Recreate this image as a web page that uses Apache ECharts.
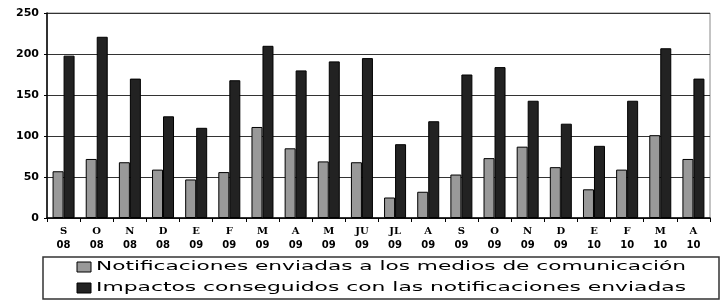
<!DOCTYPE html>
<html>
<head>
<meta charset="utf-8">
<script src="https://cdn.jsdelivr.net/npm/echarts@6/dist/echarts.min.js"></script>
<style>
html,body{margin:0;padding:0;background:#fff;}
#chart{width:721px;height:301px;}
</style>
</head>
<body>
<div id="chart"></div>
<script>
const months = ["S","O","N","D","E","F","M","A","M","JU","JL","A","S","O","N","D","E","F","M","A"];
const years  = ["08","08","08","08","09","09","09","09","09","09","09","09","09","09","09","09","10","10","10","10"];
const seriesNames = [
  "Notificaciones enviadas a los medios de comunicación",
  "Impactos conseguidos con las notificaciones enviadas"
];
const notificaciones = [57,72,68,59,47,56,111,85,69,68,25,32,53,73,87,62,35,59,101,72];
const impactos = [198,221,170,124,110,168,210,180,191,195,90,118,175,184,143,115,88,143,207,170];

const categories = months.map((m, i) => m + "\n" + years[i]);

const chart = echarts.init(document.getElementById('chart'), null, {renderer: 'canvas'});

function measure(text, font) {
  const c = document.createElement('canvas').getContext('2d');
  c.font = font;
  return c.measureText(text).width;
}
const legendFont = '12px "DejaVu Sans"';
const targetW = 590;
const s1 = targetW / measure(seriesNames[0], legendFont);
const s2 = targetW / measure(seriesNames[1], legendFont);

chart.setOption({
  animation: false,
  backgroundColor: '#ffffff',
  grid: {left: 47, right: 11, top: 13, bottom: 83, show: true, borderColor: '#888', borderWidth: 1},
  xAxis: {
    type: 'category',
    data: categories,
    axisLine: {lineStyle: {color: '#000', width: 1.5}},
    axisTick: {show: true, length: 4, lineStyle: {color: '#000'}},
    axisLabel: {
      margin: 6,
      interval: 0,
      formatter: function (v) {
        const p = v.split("\n");
        return '{m|' + p[0] + '}\n{y|' + p[1] + '}';
      },
      rich: {
        m: {fontFamily: '"DejaVu Serif"', fontWeight: 'bold', fontSize: 10, lineHeight: 14, color: '#000'},
        y: {fontFamily: '"DejaVu Sans"', fontWeight: 'bold', fontSize: 10, lineHeight: 14, color: '#000'}
      }
    }
  },
  yAxis: {
    type: 'value',
    min: 0, max: 250, interval: 50,
    axisLine: {show: true, lineStyle: {color: '#000', width: 1.5}},
    axisTick: {show: true, length: 3, lineStyle: {color: '#000'}},
    axisLabel: {margin: 8, fontFamily: '"DejaVu Sans"', fontWeight: 'bold', fontSize: 11, color: '#000'},
    splitLine: {show: true, lineStyle: {color: '#333', width: 1.2}}
  },
  series: [
    {
      name: seriesNames[0], type: 'bar', data: notificaciones,
      barWidth: 11, barGap: '0%',
      itemStyle: {color: '#999999', borderColor: '#000', borderWidth: 1}
    },
    {
      name: seriesNames[1], type: 'bar', data: impactos,
      barWidth: 11,
      itemStyle: {color: '#222222', borderColor: '#000', borderWidth: 1}
    }
  ],
  graphic: [
    {type: 'rect', shape: {x: 43, y: 257, width: 676, height: 42}, style: {fill: '#fff', stroke: '#333', lineWidth: 1.5}},
    {type: 'rect', shape: {x: 77, y: 262, width: 14, height: 10}, style: {fill: '#999999', stroke: '#000', lineWidth: 1}},
    {type: 'rect', shape: {x: 77, y: 283, width: 14, height: 10}, style: {fill: '#222222', stroke: '#000', lineWidth: 1}},
    {type: 'text', x: 96, y: 267, scaleX: s1, style: {text: seriesNames[0], font: legendFont, fill: '#000', verticalAlign: 'middle', align: 'left'}},
    {type: 'text', x: 96, y: 288, scaleX: s2, style: {text: seriesNames[1], font: legendFont, fill: '#000', verticalAlign: 'middle', align: 'left'}}
  ]
});
</script>
</body>
</html>
